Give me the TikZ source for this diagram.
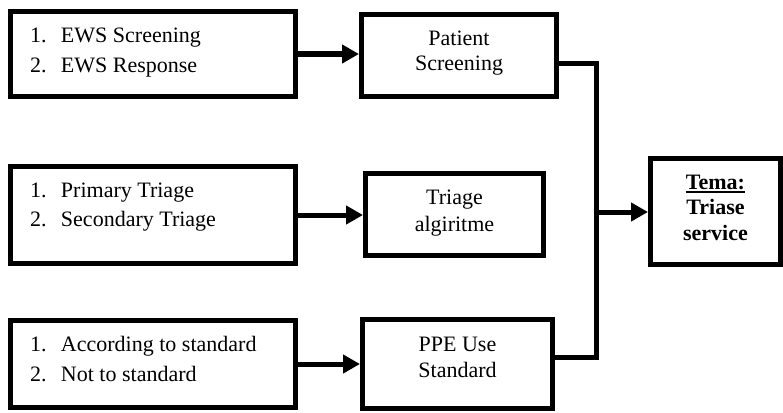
\documentclass[tikz,border=0pt]{standalone}
\usepackage{fontspec}
\setmainfont{Liberation Serif}
\usetikzlibrary{arrows.meta}
\newcommand\listitem[2]{\hspace*{19.5pt}\makebox[31pt][l]{#1}#2}
\newcommand\topbox[3]{\parbox[c][#2][t]{#1}{#3}}
\newcommand\ulword[1]{\setbox0\hbox{#1}\rlap{\rule[-3.5pt]{\wd0}{1.6pt}}\box0}
\begin{document}
\begin{tikzpicture}[x=1pt,y=-1pt,
  boxnode/.style={draw, line width=5pt, inner sep=0pt, rectangle, fill=white},
  conn/.style={line width=5pt},
  arr/.style={line width=5pt, -{Triangle[length=17pt,width=18pt]}}]
\useasboundingbox (0,0) rectangle (783,412);
\node[boxnode] (b1) at (153,54) {\topbox{285pt}{85pt}{\fontsize{22}{30}\selectfont\rule{0pt}{31pt}\listitem{1.}{EWS Screening}\par\listitem{2.}{EWS Response}}};
\node[boxnode] (b2) at (153,215) {\topbox{285pt}{97pt}{\fontsize{22}{29}\selectfont\rule{0pt}{31pt}\listitem{1.}{Primary Triage}\par\listitem{2.}{Secondary Triage}}};
\node[boxnode] (b3) at (153,364) {\topbox{285pt}{87pt}{\fontsize{22}{30}\selectfont\rule{0pt}{31pt}\listitem{1.}{According to standard}\par\listitem{2.}{Not to standard}}};
\node[boxnode] (p1) at (459,55.5) {\topbox{195pt}{82pt}{\centering\fontsize{22}{25.5}\selectfont\rule{0pt}{31pt}Patient\\Screening}};
\node[boxnode] (p2) at (454.5,214.5) {\topbox{178pt}{82pt}{\centering\fontsize{22}{27}\selectfont\rule{0pt}{30.5pt}Triage\\algiritme}};
\node[boxnode] (p3) at (457.5,364) {\topbox{190pt}{89pt}{\centering\fontsize{22}{26}\selectfont\rule{0pt}{31.5pt}PPE Use\\Standard}};
\node[boxnode] (tema) at (715.5,211.5) {\topbox{130pt}{106pt}{\centering\fontsize{22}{25.5}\selectfont\bfseries\rule{0pt}{30.5pt}\ulword{Tema:}\\Triase\\service}};
\draw[arr] (b1.east) -- (b1.east -| p1.west);
\draw[arr] (b2.east) -- (b2.east -| p2.west);
\draw[arr] (b3.east) -- (b3.east -| p3.west);
\coordinate (bus) at (596,212);
\draw[conn] ([yshift=-7.5pt]p1.east) -| (bus) |- ([yshift=7pt]p3.east);
\draw[arr] (bus) -- (bus -| tema.west);
\end{tikzpicture}
\end{document}
